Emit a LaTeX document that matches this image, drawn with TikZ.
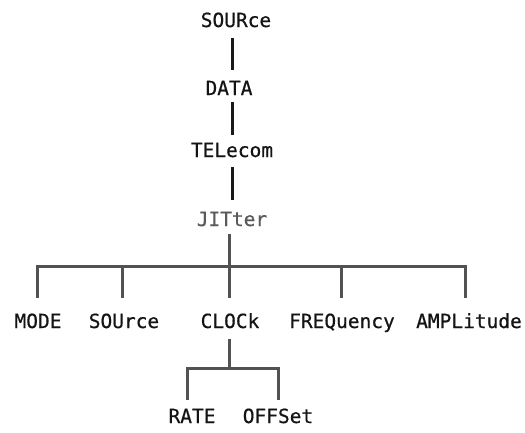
\documentclass[tikz,border=0pt]{standalone}
\usepackage{fontspec}
\setmonofont[FakeBold=0.6]{DejaVu Sans Mono}
\begin{document}
\begin{tikzpicture}[x=1pt,y=-1pt,
  lbl/.style={font=\ttfamily\fontsize{19.5}{22}\selectfont, inner sep=0pt, anchor=base, text=black!92},
  conn/.style={line width=3pt, draw=black!68},
  topconn/.style={line width=3pt, draw=black!90}]
\useasboundingbox (0,0) rectangle (525,432);
\node[lbl] (src) at (236,27) {SOURce};
\node[lbl] (data) at (229,95) {DATA};
\node[lbl] (tel) at (232,157) {TELecom};
\node[lbl, text=black!65] (jit) at (232,226) {JITter};
\node[lbl] (mode) at (38,328) {MODE};
\node[lbl] (sour) at (124,328) {SOUrce};
\node[lbl] (clk) at (230,328) {CLOCk};
\node[lbl] (freq) at (342,328) {FREQuency};
\node[lbl] (ampl) at (469,328) {AMPLitude};
\node[lbl] (rate) at (192,423) {RATE};
\node[lbl] (off) at (278,423) {OFFSet};
% connector end points
\coordinate (s1) at (232,38); \coordinate (d0) at (232,70);
\coordinate (d1) at (232,102); \coordinate (t0) at (232,135);
\coordinate (t1) at (232,167); \coordinate (j0) at (232,200);
\coordinate (j1) at (229,234); \coordinate (jb) at (229,266);
\coordinate (hl) at (37,266); \coordinate (hr) at (465,266);
\coordinate (m0) at (37,298); \coordinate (so0) at (122,298);
\coordinate (c0) at (229,298); \coordinate (f0) at (341,298);
\coordinate (a0) at (465,298);
\coordinate (c1) at (229,339); \coordinate (cb) at (229,368);
\coordinate (cl) at (187,368); \coordinate (cr) at (278,368);
\coordinate (r0) at (187,400); \coordinate (o0) at (278,400);
\draw[topconn] (s1) -- (d0);
\draw[topconn] (d1) -- (t0);
\draw[topconn] (t1) -- (j0);
\draw[conn] (j1) -- (jb);
\draw[conn, line cap=rect] (hl) -- (hr);
\draw[conn] (hl) -- (m0);
\draw[conn] (hl -| so0) -- (so0);
\draw[conn] (jb) -- (c0);
\draw[conn] (hl -| f0) -- (f0);
\draw[conn] (hr) -- (a0);
\draw[conn] (c1) -- (cb);
\draw[conn, line cap=rect] (cl) -- (cr);
\draw[conn] (cl) -- (r0);
\draw[conn] (cr) -- (o0);
\end{tikzpicture}
\end{document}
